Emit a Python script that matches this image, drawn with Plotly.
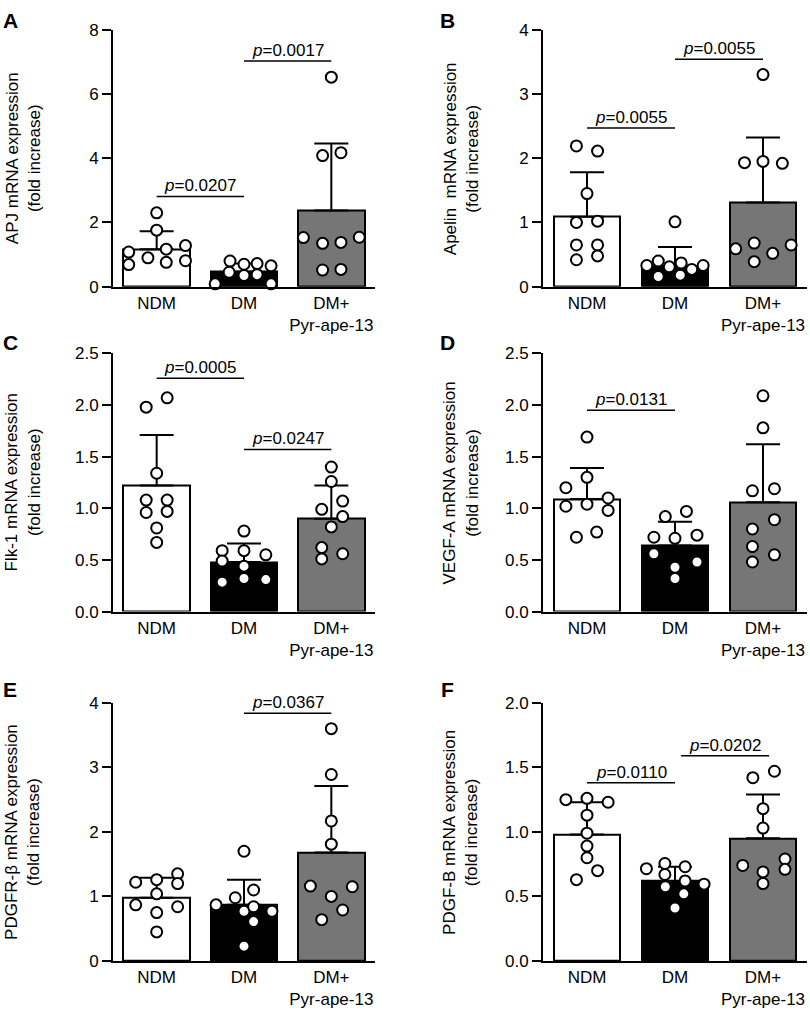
import plotly.graph_objects as go

FONT = "Liberation Sans, Arial, Helvetica, sans-serif"
W, H = 810, 1022

CATEGORIES = ["NDM", "DM", "DM+<br>Pyr-ape-13"]
BAR_COLORS = ["#ffffff", "#000000", "#767676"]

# ---------------- Panel A : APJ ----------------
A_MEAN = [1.17, 0.47, 2.37]
A_SD = [0.56, 0.25, 2.09]
A_NDM = [2.30, 1.76, 1.08, 1.17, 1.28, 0.69, 0.90, 0.76, 0.81]
A_NDM_JIT = [0, 0, -0.32, 0.11, 0.33, -0.32, -0.10, 0.11, 0.33]
A_DM = [0.80, 0.70, 0.72, 0.65, 0.45, 0.35, 0.375, 0.09, 0.09]
A_DM_JIT = [-0.16, 0, 0.15, 0.31, -0.17, 0, 0.15, -0.33, 0.31]
A_DMP = [6.52, 4.08, 4.17, 1.53, 1.35, 1.38, 1.54, 0.52, 0.54]
A_DMP_JIT = [0, -0.10, 0.11, -0.32, -0.10, 0.11, 0.32, -0.10, 0.11]
A_P_TEXT = ["0.0207", "0.0017"]
A_P_FROM = [0, 1]
A_P_TO = [1, 2]
A_P_Y = [2.81, 7.02]

# ---------------- Panel B : Apelin ----------------
B_MEAN = [1.09, 0.32, 1.31]
B_SD = [0.69, 0.30, 1.01]
B_NDM = [2.19, 2.11, 1.45, 1.00, 1.02, 0.65, 0.65, 0.42, 0.48]
B_NDM_JIT = [-0.12, 0.12, 0, -0.12, 0.12, -0.12, 0.12, -0.12, 0.12]
B_DM = [1.01, 0.33, 0.40, 0.31, 0.37, 0.27, 0.33, 0.16, 0.18]
B_DM_JIT = [0, -0.32, -0.19, -0.065, 0.07, 0.19, 0.32, -0.19, 0.06]
B_DMP = [3.30, 1.93, 1.95, 1.92, 0.59, 0.68, 0.52, 0.65, 0.39]
B_DMP_JIT = [0, -0.21, 0, 0.22, -0.31, -0.10, 0.11, 0.32, -0.10]
B_P_TEXT = ["0.0055", "0.0055"]
B_P_FROM = [0, 1]
B_P_TO = [1, 2]
B_P_Y = [2.47, 3.54]

# ---------------- Panel C : Flk-1 ----------------
C_MEAN = [1.22, 0.48, 0.90]
C_SD = [0.49, 0.18, 0.32]
C_NDM = [1.98, 2.07, 1.34, 1.08, 1.08, 0.96, 0.97, 0.81, 0.67]
C_NDM_JIT = [-0.12, 0.12, 0, -0.12, 0.12, -0.12, 0.12, 0, 0]
C_DM = [0.78, 0.59, 0.59, 0.55, 0.49, 0.44, 0.285, 0.32, 0.31]
C_DM_JIT = [0, -0.25, 0, 0.25, -0.25, 0, -0.25, 0, 0.25]
C_DMP = [1.40, 1.26, 0.99, 1.07, 0.92, 0.82, 0.62, 0.51, 0.56]
C_DMP_JIT = [0, 0, -0.11, 0.13, 0.13, 0, -0.11, -0.11, 0.13]
C_P_TEXT = ["0.0005", "0.0247"]
C_P_FROM = [0, 1]
C_P_TO = [1, 2]
C_P_Y = [2.26, 1.57]

# ---------------- Panel D : VEGF-A ----------------
D_MEAN = [1.09, 0.64, 1.06]
D_SD = [0.30, 0.23, 0.56]
D_NDM = [1.69, 1.30, 1.20, 1.10, 1.02, 1.04, 0.98, 0.72, 0.77]
D_NDM_JIT = [0, 0, -0.24, 0.24, -0.24, 0, 0.24, -0.12, 0.11]
D_DM = [0.92, 0.97, 0.72, 0.71, 0.74, 0.56, 0.43, 0.48, 0.32]
D_DM_JIT = [-0.11, 0.13, -0.24, 0, 0.25, -0.24, 0, 0.25, 0]
D_DMP = [2.09, 1.78, 1.17, 1.19, 0.89, 0.80, 0.63, 0.48, 0.55]
D_DMP_JIT = [0, 0, -0.12, 0.13, 0.13, -0.12, -0.12, -0.12, 0.13]
D_P_TEXT = ["0.0131"]
D_P_FROM = [0]
D_P_TO = [1]
D_P_Y = [1.95]

# ---------------- Panel E : PDGFR-beta ----------------
E_MEAN = [0.98, 0.87, 1.68]
E_SD = [0.31, 0.39, 1.03]
E_NDM = [1.22, 1.26, 1.35, 1.20, 1.04, 0.87, 0.75, 0.84, 0.45]
E_NDM_JIT = [-0.24, 0, 0.24, 0.24, 0, -0.24, 0, 0.24, 0]
E_DM = [1.70, 0.98, 1.10, 0.87, 0.77, 0.77, 0.84, 0.61, 0.23]
E_DM_JIT = [0, -0.10, 0.11, -0.32, 0, 0.32, 0.11, 0.11, 0]
E_DMP = [3.60, 2.89, 2.17, 1.81, 1.16, 1.15, 1.00, 0.79, 0.64]
E_DMP_JIT = [0, 0, 0, 0, -0.24, 0.24, 0, 0.13, -0.11]
E_P_TEXT = ["0.0367"]
E_P_FROM = [1]
E_P_TO = [2]
E_P_Y = [3.84]

# ---------------- Panel F : PDGF-B ----------------
F_MEAN = [0.98, 0.62, 0.95]
F_SD = [0.25, 0.11, 0.34]
F_NDM = [1.25, 1.26, 1.23, 1.13, 0.99, 0.89, 0.80, 0.70, 0.63]
F_NDM_JIT = [-0.24, 0, 0.24, 0, 0, 0, 0, 0.12, -0.12]
F_DM = [0.715, 0.755, 0.67, 0.73, 0.62, 0.595, 0.575, 0.52, 0.41]
F_DM_JIT = [-0.325, -0.115, -0.115, 0.115, 0.115, 0.33, -0.11, 0.10, 0]
F_DMP = [1.42, 1.47, 1.18, 1.03, 0.74, 0.69, 0.79, 0.71, 0.60]
F_DMP_JIT = [-0.115, 0.13, 0, 0, -0.23, 0, 0.25, 0.25, 0]
F_P_TEXT = ["0.0110", "0.0202"]
F_P_FROM = [0, 1.07]
F_P_TO = [1, 2.07]
F_P_Y = [1.38, 1.59]

# Y axis settings and titles
Y_TITLES = [
    "APJ mRNA expression<br>(fold increase)",
    "Apelin  mRNA expression<br>(fold increase)",
    "Flk-1 mRNA expression<br>(fold increase)",
    "VEGF-A mRNA expression<br>(fold increase)",
    "PDGFR-β mRNA expression<br>(fold increase)",
    "PDGF-B mRNA expression<br>(fold increase)",
]
Y_MAX = [8, 4, 2.5, 2.5, 4, 2.0]
Y_DTICK = [2, 1, 0.5, 0.5, 1, 0.5]
Y_FORMAT = ["d", "d", ".1f", ".1f", "d", ".1f"]
LETTERS = ["A", "B", "C", "D", "E", "F"]

panels = [
    (A_MEAN, A_SD, [A_NDM, A_DM, A_DMP], [A_NDM_JIT, A_DM_JIT, A_DMP_JIT], A_P_TEXT, A_P_FROM, A_P_TO, A_P_Y),
    (B_MEAN, B_SD, [B_NDM, B_DM, B_DMP], [B_NDM_JIT, B_DM_JIT, B_DMP_JIT], B_P_TEXT, B_P_FROM, B_P_TO, B_P_Y),
    (C_MEAN, C_SD, [C_NDM, C_DM, C_DMP], [C_NDM_JIT, C_DM_JIT, C_DMP_JIT], C_P_TEXT, C_P_FROM, C_P_TO, C_P_Y),
    (D_MEAN, D_SD, [D_NDM, D_DM, D_DMP], [D_NDM_JIT, D_DM_JIT, D_DMP_JIT], D_P_TEXT, D_P_FROM, D_P_TO, D_P_Y),
    (E_MEAN, E_SD, [E_NDM, E_DM, E_DMP], [E_NDM_JIT, E_DM_JIT, E_DMP_JIT], E_P_TEXT, E_P_FROM, E_P_TO, E_P_Y),
    (F_MEAN, F_SD, [F_NDM, F_DM, F_DMP], [F_NDM_JIT, F_DM_JIT, F_DMP_JIT], F_P_TEXT, F_P_FROM, F_P_TO, F_P_Y),
]

# Layout in pixels (plot areas)
COL_X = [(113, 375), (543, 807)]
ROW_Y = [(21, 283), (351, 614), (707, 970)]
TITLE_X = [23, 461]
LETTER_X = [10, 448]
LETTER_Y = [12, 340, 693]

fig = go.Figure()
layout = {}
annotations = []
shapes = []

for i, (mean, sd, pts, jit, ptxt, pfrom, pto, py) in enumerate(panels):
    row, col = divmod(i, 2)
    n = "" if i == 0 else str(i + 1)
    xa, ya = "x" + n, "y" + n
    x0p, x1p = COL_X[col]
    y0p, y1p = ROW_Y[row]

    fig.add_trace(go.Bar(
        x=[0, 1, 2], y=mean, width=0.76, xaxis=xa, yaxis=ya,
        marker=dict(color=BAR_COLORS, line=dict(color="black", width=2)),
        error_y=dict(type="data", array=sd, arrayminus=[0, 0, 0], symmetric=False,
                     color="black", thickness=2, width=17),
        showlegend=False, hoverinfo="skip",
    ))
    for g in range(3):
        fig.add_trace(go.Scatter(
            x=[g + j for j in jit[g]], y=pts[g], xaxis=xa, yaxis=ya,
            mode="markers", cliponaxis=False, showlegend=False,
            marker=dict(symbol="circle", size=11, color="white",
                        line=dict(color="black", width=2)),
        ))

    layout["xaxis" + n] = dict(
        domain=[x0p / W, x1p / W], anchor=ya, range=[-0.5, 2.5],
        tickmode="array", tickvals=[0, 1, 2], ticktext=CATEGORIES,
        showline=True, linecolor="black", linewidth=2,
        ticks="", showgrid=False, zeroline=False,
        tickfont=dict(family=FONT, size=17, color="black"),
    )
    layout["yaxis" + n] = dict(
        domain=[1 - y1p / H, 1 - y0p / H], anchor=xa, range=[0, Y_MAX[i]],
        dtick=Y_DTICK[i], tick0=0, tickformat=Y_FORMAT[i],
        showline=True, linecolor="black", linewidth=2,
        ticks="outside", ticklen=9, tickwidth=2, tickcolor="black",
        showgrid=False, zeroline=False,
        tickfont=dict(family=FONT, size=17, color="black"),
    )

    for t, a, b, yv in zip(ptxt, pfrom, pto, py):
        shapes.append(dict(type="line", xref=xa, yref=ya, x0=a, x1=b, y0=yv, y1=yv,
                           line=dict(color="black", width=1.5)))
        annotations.append(dict(xref=xa, yref=ya, x=(a + b) / 2, y=yv, yanchor="bottom",
                                text="<i>p</i>=" + t, showarrow=False, yshift=-1,
                                font=dict(family=FONT, size=17, color="black")))

    annotations.append(dict(xref="paper", yref="paper", x=TITLE_X[col] / W,
                            y=1 - (y0p + y1p) / 2 / H, textangle=-90,
                            text=Y_TITLES[i], showarrow=False,
                            xanchor="center", yanchor="middle",
                            font=dict(family=FONT, size=17, color="black")))
    annotations.append(dict(xref="paper", yref="paper", x=LETTER_X[col] / W,
                            y=1 - LETTER_Y[row] / H, text="<b>" + LETTERS[i] + "</b>",
                            showarrow=False, xanchor="center", yanchor="middle",
                            font=dict(family=FONT, size=21, color="black")))

fig.update_layout(
    width=W, height=H, margin=dict(l=0, r=0, t=0, b=0),
    paper_bgcolor="white", plot_bgcolor="white",
    font=dict(family=FONT, size=17, color="black"),
    annotations=annotations, shapes=shapes, bargap=0,
    **layout,
)

fig.write_html("out.html", config={"displayModeBar": False},
               post_script="document.body.style.margin='0';")
